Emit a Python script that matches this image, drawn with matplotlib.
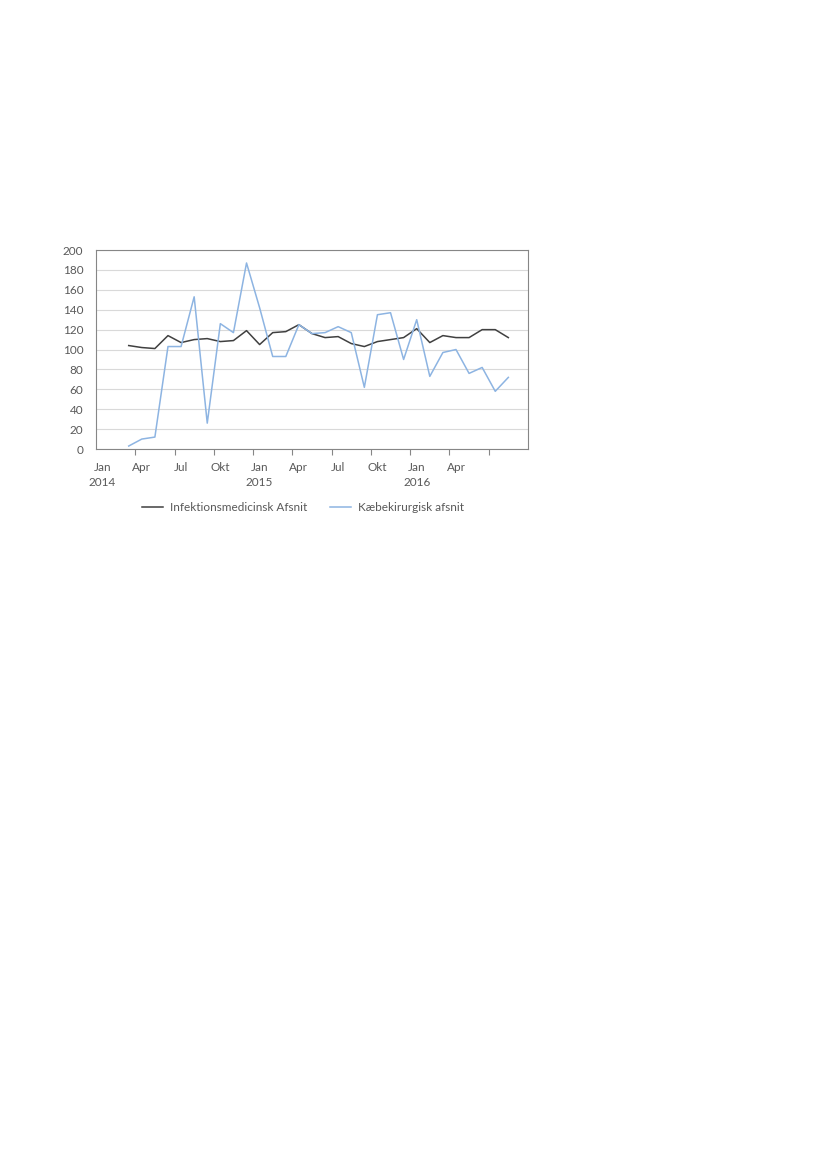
import matplotlib as mpl
mpl.use('agg')
import matplotlib.pyplot as plt
import numpy as np

mpl.rcParams['font.family'] = ['Lato', 'DejaVu Sans']
mpl.rcParams['font.size'] = 8.5

# monthly categories Jan 2014 .. Sep 2016
months = ['Jan 2014', 'Feb 2014', 'Mar 2014', 'Apr 2014', 'Maj 2014', 'Jun 2014',
          'Jul 2014', 'Aug 2014', 'Sep 2014', 'Okt 2014', 'Nov 2014', 'Dec 2014',
          'Jan 2015', 'Feb 2015', 'Mar 2015', 'Apr 2015', 'Maj 2015', 'Jun 2015',
          'Jul 2015', 'Aug 2015', 'Sep 2015', 'Okt 2015', 'Nov 2015', 'Dec 2015',
          'Jan 2016', 'Feb 2016', 'Mar 2016', 'Apr 2016', 'Maj 2016', 'Jun 2016',
          'Jul 2016', 'Aug 2016', 'Sep 2016']

# series start in Mar 2014 (index 2)
infektion = [104, 102, 101, 114, 107, 110, 111, 108, 109, 119, 105, 117, 118,
             125, 116, 112, 113, 106, 103, 108, 110, 112, 121, 107, 114, 112,
             112, 120, 120, 112]
kaebe = [3, 10, 12, 103, 103, 153, 26, 126, 117, 187, 142, 93, 93,
         125, 116, 117, 123, 117, 62, 135, 137, 90, 130, 73, 97, 100,
         76, 82, 58, 72]
start_idx = 2

tick_labels = ['Jan\n2014', 'Apr', 'Jul', 'Okt', 'Jan\n2015', 'Apr', 'Jul', 'Okt',
               'Jan\n2016', 'Apr', '']
y_ticks = [0, 20, 40, 60, 80, 100, 120, 140, 160, 180, 200]


def main():
    fig = plt.figure(figsize=(8.26, 11.69), dpi=100)
    ax = fig.add_axes([0.1162, 0.6159, 0.5230, 0.1702])

    x = np.arange(start_idx, start_idx + len(infektion))
    ax.plot(x, infektion, color='#404040', lw=1.1, label='Infektionsmedicinsk Afsnit')
    ax.plot(x, kaebe, color='#8db4e2', lw=1.1, label='Kæbekirurgisk afsnit')

    ax.set_xlim(-0.5, len(months) - 0.5)
    ax.set_ylim(0, 200)
    ax.set_yticks(y_ticks)
    ax.grid(axis='y', color='#d9d9d9', lw=0.8)
    ax.set_axisbelow(True)

    ax.set_xticks(np.arange(0, 31, 3))
    ax.set_xticklabels(tick_labels, color='#595959', linespacing=1.45)
    ax.set_xticks(np.arange(2.5, len(months) - 1, 3), minor=True)
    ax.tick_params(axis='x', which='major', length=0, pad=9)
    ax.tick_params(axis='x', which='minor', length=4, color='#868686', width=0.8)
    ax.tick_params(axis='y', length=0, labelcolor='#595959', pad=9)

    for s in ax.spines.values():
        s.set_color('#868686')
        s.set_linewidth(0.8)

    leg = fig.legend(loc='center', bbox_to_anchor=(0.367, 0.566), ncol=2,
                     frameon=False, handlelength=1.8, columnspacing=1.9,
                     handletextpad=0.6)
    for t in leg.get_texts():
        t.set_color('#595959')

    fig.savefig('out.png', dpi=100)


if __name__ == '__main__':
    main()
